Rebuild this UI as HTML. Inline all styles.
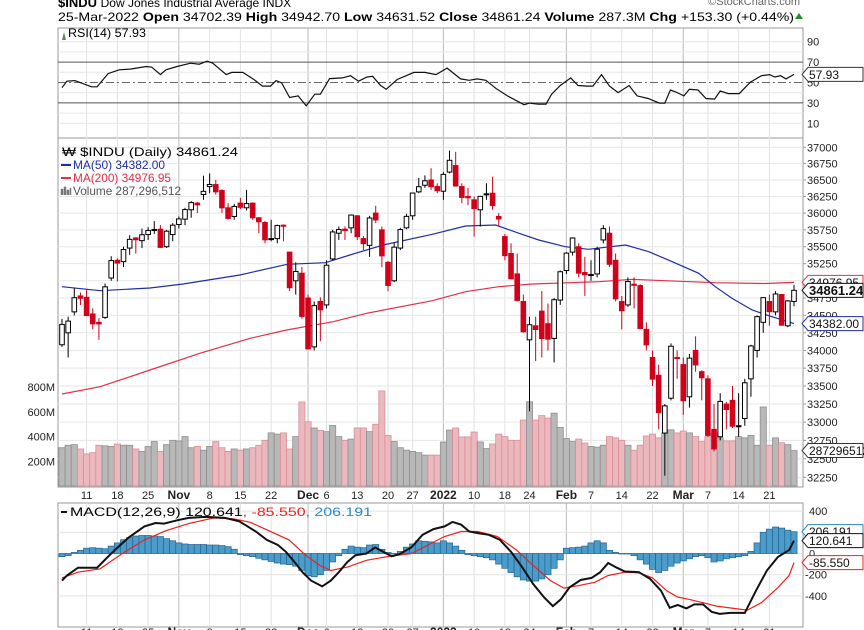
<!DOCTYPE html>
<html><head><meta charset="utf-8"><style>
html,body{margin:0;padding:0;background:#fff;}
svg{display:block;font-family:"Liberation Sans",sans-serif;}
</style></head><body>
<svg id="chart" width="864" height="630" viewBox="0 0 864 630" xmlns="http://www.w3.org/2000/svg">
<rect x="0" y="0" width="864" height="630" fill="#fff"/>
<text x="58" y="7" font-size="13" font-weight="bold">$INDU <tspan font-weight="normal" font-size="12">Dow Jones Industrial Average INDX</tspan></text>
<text x="800" y="5" font-size="11" fill="#666" text-anchor="end">©StockCharts.com</text>
<text x="58" y="21" font-size="12" textLength="736" lengthAdjust="spacingAndGlyphs">25-Mar-2022  <tspan font-weight="bold">Open</tspan> 34702.39 <tspan font-weight="bold">High</tspan> 34942.70 <tspan font-weight="bold">Low</tspan> 34631.52 <tspan font-weight="bold">Close</tspan> 34861.24 <tspan font-weight="bold">Volume</tspan> 287.3M <tspan font-weight="bold">Chg</tspan> +153.30 (+0.44%)</text>
<polygon points="795,19 799,13 803,19" fill="#2a8a2a"/>
<g id="layer"></g>
</svg>
<script>
const opens=[34080,34250,34550,34780,34760,34520,34400,34470,35040,35300,35280,35480,35630,35590,35680,35740,35760,35500,35680,35830,35910,36050,36150,36280,36400,36430,36340,36080,35950,36150,36080,36150,35930,35860,35620,35620,35820,35420,35000,35110,34750,34050,34700,34650,35320,35700,35760,35780,35960,35620,35520,36000,35750,35270,35000,35480,35780,35960,36320,36420,36500,36400,36330,36620,36720,36400,36250,36200,36050,36290,36300,35950,35650,35400,35100,34700,34150,34350,34560,34380,34170,34720,35150,35420,35500,35120,35080,35100,35600,35700,35300,34700,34650,34950,34930,34300,33900,33650,32850,33330,33900,33800,33350,34000,33700,33600,32900,32800,33250,33300,32950,33050,33600,34000,34400,34700,34550,34800,34350,34700];
const highs=[34450,34480,34900,34830,34870,34600,34460,34960,35360,35330,35500,35670,35640,35770,35790,35880,35820,35750,35850,35950,36080,36180,36170,36565,36600,36500,36360,36150,36140,36230,36350,36160,35940,35880,35900,35830,35830,35430,35270,35200,34800,34700,34760,35300,35750,35800,35800,35980,35970,35660,35960,36110,35800,35290,35560,35780,35990,36310,36530,36570,36680,36450,36620,36950,36930,36450,36380,36250,36260,36450,36550,36000,35690,35550,35400,34800,34480,34480,34850,34670,34750,35150,35420,35640,35550,35350,35300,35500,35820,35800,35400,34780,35050,35050,34950,34400,34000,33800,33250,34100,34000,33900,33950,34200,33720,33650,33250,33400,33280,33500,33400,33600,34080,34500,34760,34800,34850,34810,34720,34940];
const lows=[34050,33900,34500,34650,34490,34300,34150,34450,35000,34990,35200,35380,35400,35480,35600,35690,35480,35480,35580,35770,35820,35930,36000,36200,36300,36280,36000,35900,35900,36060,36040,35900,35700,35550,35580,35550,35580,34850,34800,34450,34010,34000,34130,34600,35300,35600,35600,35700,35600,35450,35350,35850,35200,34850,34980,35450,35760,35900,36300,36380,36350,36300,36200,36600,36400,36150,36120,35650,35800,36200,36050,35800,35300,35020,34700,34250,33150,33850,33900,34000,33830,34650,35100,35370,35050,34780,35000,35050,35550,35200,34700,34300,34620,34600,34300,34000,33500,32900,32272,33300,33600,33100,33200,33700,33300,32800,32600,32750,32900,32920,32800,32950,33350,33900,34250,34350,34500,34350,34330,34630];
const closes=[34370,34417,34754,34746,34496,34378,34377,34912,35295,35259,35458,35609,35603,35677,35741,35756,35490,35730,35820,35913,36053,36158,36124,36328,36432,36320,36079,35921,36100,36087,36143,35931,35871,35602,35619,35814,35804,34899,35136,34484,34022,34640,34580,35227,35719,35754,35740,35971,35651,35545,35927,35898,35365,34932,35493,35754,35951,36302,36398,36488,36398,36338,36585,36800,36408,36236,36231,36068,36252,36290,36113,35912,35368,35029,34715,34265,34365,34297,34168,34160,34725,35132,35405,35629,35111,35089,35091,35463,35768,35241,34738,34566,34989,34934,34312,34079,33596,33131,33224,34059,33893,33295,33891,33795,33615,32818,32633,33286,33174,32944,32945,33545,34063,34481,34755,34553,34808,34359,34708,34861];
const volumes=[310,330,335,300,260,270,330,325,320,340,330,330,300,280,320,360,280,335,370,365,400,310,320,290,320,360,310,280,300,290,300,310,330,370,430,420,430,300,400,680,520,470,450,440,490,400,370,380,470,470,440,500,770,410,360,310,290,280,270,250,250,250,356,453,470,397,398,437,357,303,340,420,400,370,370,534,682,534,570,550,590,475,385,360,380,348,320,315,330,400,390,370,330,290,330,405,420,390,430,455,430,445,430,400,360,400,430,390,365,365,400,390,410,330,640,330,390,350,335,287];
const ma50Idx=[0,6.2,14.3,19.7,28.9,36.6,42.8,46.8,52.2,60.2,65.6,70.5,74.3,77.5,81.8,85.6,88.3,91.6,95.4,99.2,103.5,106.2,108.9,112.2,114.9,119];
const ma50Vals=[34914,34856,34895,34953,35085,35241,35265,35378,35525,35684,35808,35822,35699,35600,35500,35462,35491,35525,35426,35279,35109,34914,34746,34577,34495,34382];
const ma200Idx=[0,6.2,14.3,22.4,30.6,36.5,44.1,49.5,60.2,65.6,71,76.4,87.3,92.7,98,106.2,114.3,119];
const ma200Vals=[33389,33490,33724,33959,34172,34290,34409,34529,34711,34841,34914,34953,34987,35022,35001,34972,34960,34977];
const rsiIdx=[0,0.8,2.1,4.8,5.7,7.5,9.3,11.1,13.7,14.6,16,16.9,18.7,20.9,22.3,23.6,24.5,26.7,27.6,29.4,31.2,32.6,33.9,34.8,35.7,37,38.4,39.7,41.1,42,43.5,45.6,46.9,48.2,49.6,50.5,51.8,52.7,54.5,57.2,59,60.8,62.6,64.8,66.2,67.5,68.9,70.6,72.4,75.1,76,77.4,78.7,79.6,81,82.7,83.9,85.4,86.3,87.7,89,90.4,92.2,93.5,95.3,97.1,98,98.9,99.8,101.1,102,103.4,104.7,106.1,107,108.3,110.1,111.9,113.7,115,115.9,116.8,117.7,119];
const rsiVals=[44.9,51.3,51.9,45.8,45.8,58.7,62.5,63.1,65.7,65,57.7,62.5,65.7,68.9,67.9,71,68.9,57.7,59.9,59.9,52.9,46.5,46.5,51.9,49.7,35.3,36.9,27.2,38.5,38.5,53.8,54.5,56.7,51.3,55.4,56.1,47.1,43.3,52.9,59.9,59.9,57.7,64.1,53.5,52.2,53.5,52.2,43.9,36.9,28.2,29.8,28.8,28.8,38.5,47.1,54.5,47.1,46.5,46.5,57.7,46.5,40.1,47.1,36.9,34.3,29.8,29.8,42.6,40.7,36.9,43.3,42.6,34.3,33.7,41.7,39.1,39.1,50.3,56.7,57.7,55.4,56.7,53.5,57.93];
const macdIdx=[0,0.8,2.6,5.7,8,10.7,13.4,15.2,16.6,18.8,20.6,23.3,26.5,28.8,31.5,33.3,35.1,36.4,37.8,39.1,40.5,42.3,43.7,45,46.4,47.7,49.5,50.9,52.2,53.6,54.9,56.8,58.6,60.4,62.2,63.5,64.9,66.2,67.6,69.4,71.2,73,74.8,76.6,78.4,79.8,81.1,82.5,84.3,86.1,87.5,88.8,90.2,91.5,93.8,95.6,97.4,98.8,100.1,101.5,102.8,104.2,105.6,106.9,108.7,111,112.8,114.6,116.4,118.2,119];
const macdVals=[-256,-208,-134,-134,0,144,256,288,282,314,336,345,336,304,208,128,80,16,-80,-176,-256,-310,-256,-176,-80,-16,0,58,16,-26,-6,58,176,230,256,298,272,208,192,176,128,16,-128,-288,-416,-496,-432,-320,-250,-230,-176,-90,-134,-170,-176,-240,-352,-512,-486,-518,-480,-480,-550,-570,-560,-560,-352,-160,-32,32,121];
const sigIdx=[0,2.6,6.2,9.8,13.4,17,20.6,24.7,27.9,30.6,33.3,36.9,39.6,41.9,43.7,46.4,49.5,53.2,56.8,59.5,62.2,64.9,67.6,70.8,73.9,76.6,79.4,81.6,83.9,86.6,88.8,91.5,93.8,96,98.3,100.1,101.9,104.2,106.4,109.2,111.4,113.7,116.4,118.2,119];
const sigVals=[-230,-176,-144,0,128,218,282,336,326,294,224,128,-16,-112,-160,-128,-64,-26,0,80,160,208,208,160,32,-112,-256,-326,-304,-272,-208,-176,-182,-230,-352,-410,-432,-464,-496,-518,-534,-464,-320,-208,-86];
const histVals=[-30,-20,10,30,50,55,50,45,70,100,130,150,165,170,170,165,160,140,120,100,90,85,85,85,80,80,75,65,40,-10,-20,-30,-45,-60,-75,-90,-100,-105,-120,-160,-210,-220,-200,-160,-80,-20,40,70,60,55,80,85,40,10,-5,20,60,90,120,115,110,100,120,100,70,30,-10,-20,-30,-40,-60,-100,-140,-180,-220,-250,-260,-260,-240,-200,-140,-60,50,55,60,70,100,120,100,30,10,0,0,-20,-60,-100,-150,-180,-160,-120,-90,-70,-50,-30,-20,-40,-80,-70,-50,-40,-30,-20,20,100,200,230,250,240,220,206];
const xTickLabels=["11","18","25","Nov","8","15","22","Dec","6","13","20","27","2022","10","18","24","Feb","7","14","22","Mar","7","14","21"];
const xTickIdx=[4,9,14,19,24,29,34,40,43,48,53,57,62,67,72,76,82,86,91,96,101,105,110,115];
const priceTicks=[37000,36750,36500,36250,36000,35750,35500,35250,35000,34750,34500,34250,34000,33750,33500,33250,33000,32750,32500,32250];
const rsiTicks=[90,70,50,30,10];
const volTicks=[800,600,400,200];
const macdTicks=[400,200,0,-200,-400];

const NS="http://www.w3.org/2000/svg";
const layer=document.getElementById('layer');
const L=58,R=803,X0=62,DX=(794-62)/119;
function X(i){return X0+i*DX;}
function PY(p){return 147.3+(Math.log(37000)-Math.log(p))*2402;}
function VY(v){return 486-v*0.1235;}
function RY(v){return 82.5-(v-50)*1.02;}
function MY(v){return 553.5-v*0.106;}
function mk(tag,attrs,parent){const e=document.createElementNS(NS,tag);for(const k in attrs)e.setAttribute(k,attrs[k]);(parent||layer).appendChild(e);return e;}
function grp(){return mk('g',{});}

// Panels
const panels=grp();


let e;
e=mk('rect',{x:L,y:28,width:R-L,height:110,fill:'none',stroke:'#999','stroke-width':1},panels);


e=mk('rect',{x:L,y:138,width:R-L,height:349,fill:'none',stroke:'#999','stroke-width':1},panels);


e=mk('rect',{x:L,y:503,width:R-L,height:124,fill:'none',stroke:'#999','stroke-width':1},panels);



// Vertical grid
const vg=grp();


xTickIdx.forEach((ix,k)=>{
  const isMonth=isNaN(+xTickLabels[k])||xTickLabels[k]==="2022";
  const col=isMonth?'#bbb':'#e2e2e2';
  [[28,138],[138,487],[503,627]].forEach(seg=>{
    const ln=mk('line',{x1:X(ix),x2:X(ix),y1:seg[0],y2:seg[1],stroke:col,'stroke-width':1},vg);
    
    
  });
});

// RSI grid & ticks
const rg=grp();


for(let v=10;v<=90;v+=10){
  const strong=(v===70||v===30);
  const ln=mk('line',{x1:L,x2:R,y1:RY(v),y2:RY(v),stroke:strong?'#555':(v===50?'#666':'#e6e6e6'),'stroke-width':1,'stroke-dasharray':v===50?'8,3,2,3':'none'},rg);
  
  
}
rsiTicks.forEach(v=>{
  const t=mk('text',{x:807,y:RY(v)+4,'font-size':11,fill:'#222'},rg);
  t.textContent=v;
  
  
});

// Price grid & ticks
const pg=grp();


priceTicks.forEach(p=>{
  const ln=mk('line',{x1:L,x2:R,y1:PY(p),y2:PY(p),stroke:'#e6e6e6','stroke-width':1},pg);
  
  
  const tk=mk('line',{x1:R,x2:R+3,y1:PY(p),y2:PY(p),stroke:'#999'},pg);
  
  
  const t=mk('text',{x:807,y:PY(p)+4,'font-size':11,fill:'#222'},pg);
  t.textContent=p;
  
  
});
volTicks.forEach(v=>{
  const t=mk('text',{x:55,y:VY(v)+4,'font-size':11,fill:'#222','text-anchor':'end'},pg);
  t.textContent=v+'M';
  
  
});

// Volume bars
const vb=grp();


volumes.forEach((v,i)=>{
  const up=i===0||closes[i]>=closes[i-1];
  const r=mk('rect',{x:X(i)-DX/2,y:VY(v),width:DX,height:486-VY(v),fill:up?'#b8b8b8':'#ebb9bd',stroke:up?'#8f8f8f':'#d98e95','stroke-width':0.8},vb);
  
  
});

// Moving averages
function pathFrom(idx,vals,yf){return idx.map((ix,k)=>(k?'L':'M')+X(ix).toFixed(1)+','+yf(vals[k]).toFixed(1)).join('');}
e=mk('path',{d:pathFrom(ma200Idx,ma200Vals,PY),fill:'none',stroke:'#e0304a','stroke-width':1.2});


e=mk('path',{d:pathFrom(ma50Idx,ma50Vals,PY),fill:'none',stroke:'#1f2f9f','stroke-width':1.2});



// Candles
const cg=grp();


closes.forEach((c,i)=>{
  const o=opens[i],h=highs[i],l=lows[i];
  const up=i===0||c>=closes[i-1];
  const col=up?'#000':'#d0021b';
  const x=X(i);
  const g=mk('g',{},cg);
  
  
  const w=mk('line',{x1:x,x2:x,y1:PY(h),y2:PY(l),stroke:col,'stroke-width':1},g);
  
  
  const top=PY(Math.max(o,c)),bot=PY(Math.min(o,c));
  const b=mk('rect',{x:x-2.3,y:top,width:4.6,height:Math.max(bot-top,1),fill:c>o?'#fff':col,stroke:col,'stroke-width':1},g);
  
  
});

// RSI line
e=mk('path',{d:pathFrom(rsiIdx,rsiVals,RY),fill:'none',stroke:'#111','stroke-width':1.2});



// MACD
const mg=grp();


macdTicks.forEach(v=>{
  const ln=mk('line',{x1:L,x2:R,y1:MY(v),y2:MY(v),stroke:'#e2e2e2','stroke-width':1},mg);
  
  
  const t=mk('text',{x:v<0?805:809,y:MY(v)+4,'font-size':11,fill:'#222'},mg);
  t.textContent=v;
  
  
});
const hg=grp();


histVals.forEach((v,i)=>{
  const y1=Math.min(MY(v),MY(0)),y2=Math.max(MY(v),MY(0));
  const r=mk('rect',{x:X(i)-DX/2,y:y1,width:DX,height:Math.max(y2-y1,0.5),fill:'#4b9cca',stroke:'#24658f','stroke-width':0.7},hg);
  
  
});
e=mk('path',{d:pathFrom(sigIdx,sigVals,MY),fill:'none',stroke:'#f0201a','stroke-width':1.2});


e=mk('path',{d:pathFrom(macdIdx,macdVals,MY),fill:'none',stroke:'#111','stroke-width':2});



// X axis labels
const xg=grp();


xTickIdx.forEach((ix,k)=>{
  const lab=xTickLabels[k];
  const bold=isNaN(+lab)||lab==="2022";
  [499,636].forEach(yy=>{
    const t=mk('text',{x:X(ix),y:yy,'font-size':bold?12:11,'font-weight':bold?'bold':'normal','text-anchor':'middle',fill:'#222'},xg);
    t.textContent=lab;
    
    
  });
});

// Legends
function txt(x,y,s,attrs,name){const t=mk('text',Object.assign({x:x,y:y,'font-size':12},attrs||{}));t.textContent=s;return t;}
e=mk('path',{d:'M62,40 L64,32 L66,40 Z',fill:'#5a8a5a'});


txt(68,37,'RSI(14) 57.93',{'font-size':12,textLength:78,lengthAdjust:'spacingAndGlyphs'},'rsi-legend');
txt(62,156,'₩ $INDU (Daily) 34861.24',{'font-size':12,textLength:176,lengthAdjust:'spacingAndGlyphs'},'price-legend');
e=mk('line',{x1:61,x2:71,y1:165,y2:165,stroke:'#1f2f9f','stroke-width':2});


txt(73,169,'MA(50) 34382.00',{fill:'#1f2f9f',textLength:92,lengthAdjust:'spacingAndGlyphs'},'ma50-legend');
e=mk('line',{x1:61,x2:71,y1:178,y2:178,stroke:'#e0304a','stroke-width':2});


txt(73,182,'MA(200) 34976.95',{fill:'#e0304a',textLength:98,lengthAdjust:'spacingAndGlyphs'},'ma200-legend');
e=mk('path',{d:'M61,195 v-6 h2 v6 M64,195 v-8 h2 v8 M67,195 v-5 h2 v5 M70,195 v-7 h1 v7',fill:'#777',stroke:'#777','stroke-width':0.5});


txt(73,195,'Volume 287,296,512',{fill:'#555',textLength:108,lengthAdjust:'spacingAndGlyphs'},'volume-legend');
e=mk('line',{x1:61,x2:67,y1:512,y2:512,stroke:'#111','stroke-width':2});


const ml=mk('text',{x:70,y:516,'font-size':12,textLength:302,lengthAdjust:'spacingAndGlyphs'});


ml.innerHTML='MACD(12,26,9) 120.641<tspan fill="#f0201a">, -85.550</tspan><tspan fill="#2a8ac0">, 206.191</tspan>';

// Callouts
function callout(y,s,col,bold,name){
  const g=mk('g',{});
  
  
  const p=mk('polygon',{points:`802,${y} 808,${y-7} 863,${y-7} 863,${y+7} 808,${y+7}`,fill:'#fff',stroke:col,'stroke-width':1},g);
  
  
  const t=mk('text',{x:809,y:y+4.5,'font-size':bold?13:12,'font-weight':bold?'bold':'normal',fill:'#111'},g);
  t.textContent=s;
  
  
}
callout(RY(57.93),'57.93','#333',false,'rsi-callout');
callout(PY(34977),'34976.95','#e0304a',false,'ma200-callout');
callout(PY(34861),'34861.24','#111',true,'close-callout');
callout(PY(34382),'34382.00','#1f2f9f',false,'ma50-callout');
callout(VY(287.3),'287296512','#333',false,'volume-callout');
callout(MY(206),'206.191','#2a8ac0',false,'histogram-callout');
callout(MY(121),'120.641','#111',false,'macd-callout');
callout(MY(-86),'-85.550','#f0201a',false,'signal-callout');
</script>
</body></html>
